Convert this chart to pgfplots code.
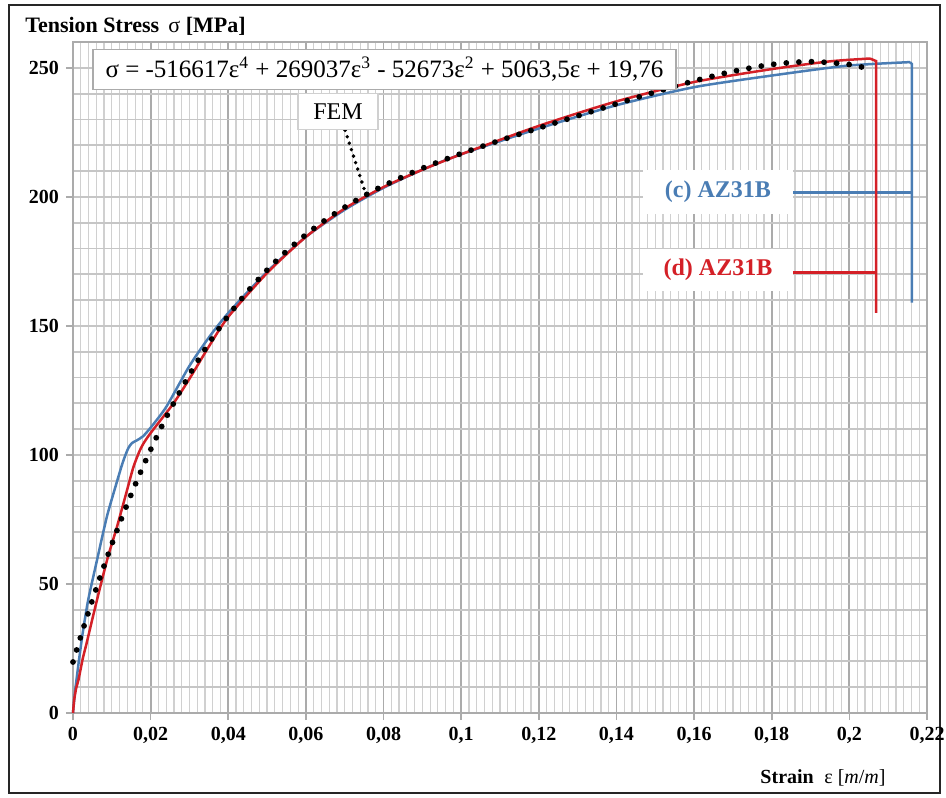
\documentclass[border=0pt]{standalone}
\usepackage{fontspec}
\setmainfont{Liberation Serif}
\usepackage{pgfplots}
\pgfplotsset{compat=1.18}
\definecolor{cblue}{HTML}{4A7DB4}
\definecolor{dred}{HTML}{D42027}
\definecolor{gmaj}{HTML}{ABABAB}
\definecolor{gmin}{HTML}{D0D0D0}
\definecolor{gh}{HTML}{C6C6C6}
\begin{document}
\begin{tikzpicture}
\useasboundingbox (-36.5pt,-42pt) rectangle (436.5pt,356.5pt);
\draw[line width=1.3pt, black!85] (-32pt,-40pt) rectangle (433.5pt,354pt);
\begin{axis}[
  at={(0,0)}, anchor=south west,
  scale only axis, width=427pt, height=335.5pt,
  xmin=0, xmax=0.22, ymin=0, ymax=260,
  xtick={0,0.02,0.04,0.06,0.08,0.1,0.12,0.14,0.16,0.18,0.2,0.22},
  xticklabels={0,{0,02},{0,04},{0,06},{0,08},{0,1},{0,12},{0,14},{0,16},{0,18},{0,2},{0,22}},
  ytick={0,50,100,150,200,250},
  minor x tick num=9, minor y tick num=4,
  grid=both,
  major x grid style={gmaj, line width=0.9pt},
  minor x grid style={gmin, line width=0.6pt},
  major y grid style={gh, line width=0.9pt},
  minor y grid style={gh, line width=0.9pt},
  axis line style={gmaj, line width=0.8pt},
  tick align=outside, major tick length=3.5pt, minor tick length=0pt,
  tick style={gmaj, line width=0.8pt},
  tick pos=left,
  tick label style={font=\bfseries\fontsize{10}{11}\selectfont, black},
  /pgf/number format/assume math mode=true,
  clip=false,
]
% (c) AZ31B
\addplot[cblue, line width=1.25pt, smooth, tension=0.4] coordinates {
(0,0) (0.0005,8) (0.0015,20) (0.0025,31) (0.0039,43.7) (0.006,58) (0.0087,75.9)
(0.011,88) (0.0128,97) (0.0142,102.5) (0.0152,104.6) (0.0164,105.6) (0.0181,107.3)
(0.0205,111.5) (0.0241,118.8) (0.03,134.5) (0.035,145.5) (0.04,155) (0.05,171)
(0.06,184.5) (0.07,195) (0.08,203.5) (0.09,210.5) (0.1,216.5) (0.12,226.5)
(0.14,235.5) (0.16,242.5) (0.18,247) (0.1993,250.8) (0.2156,252.2)};
\addplot[cblue, line width=1.25pt] coordinates {(0.2156,252.2) (0.2161,251.5) (0.2161,159)};
\addplot[cblue, line width=1.25pt] coordinates {(0.1855,201.6) (0.2161,201.6)};
% (d) AZ31B
\addplot[dred, line width=1.25pt, smooth, tension=0.4] coordinates {
(0,0) (0.0003,5) (0.0008,9.5) (0.0014,12.8) (0.0025,21) (0.0035,27) (0.005,36.5)
(0.007,48.8) (0.009,60.5) (0.0113,72) (0.0135,84) (0.0155,95) (0.017,101)
(0.0181,104.3) (0.02,108.5) (0.0258,119.8) (0.03,129.5) (0.035,142) (0.04,153.5)
(0.05,170.5) (0.06,184.5) (0.07,195.5) (0.08,203.8) (0.09,210.5) (0.1,216.5)
(0.12,227.5) (0.14,237) (0.16,244.5) (0.18,249.5) (0.195,252.5) (0.2053,253.6)};
\addplot[dred, line width=1.25pt] coordinates {(0.2053,253.6) (0.2069,252.6) (0.2069,155)};
\addplot[dred, line width=1.25pt] coordinates {(0.1855,170.6) (0.2069,170.6)};
% FEM
\addplot[black, line width=2.9pt, line cap=round, dash pattern=on 0pt off 6.3pt, smooth] coordinates {
(0,19.76) (0.0025,32.09) (0.005,43.79) (0.0075,54.89) (0.01,65.39) (0.0125,75.34)
(0.015,84.74) (0.0175,93.63) (0.02,102.03) (0.0225,109.96) (0.025,117.43) (0.03,131.10)
(0.035,143.22) (0.04,153.92) (0.045,163.35) (0.05,171.65) (0.055,178.95) (0.06,185.36)
(0.065,191.01) (0.07,195.98) (0.075,200.39) (0.08,204.32) (0.09,211.06) (0.1,216.76)
(0.11,221.85) (0.12,226.66) (0.13,231.36) (0.14,236.03) (0.15,240.61) (0.16,244.90)
(0.17,248.60) (0.18,251.28) (0.19,252.39) (0.2,251.25) (0.205,249.57)};
\draw[black, line width=1.9pt, line cap=round, dash pattern=on 0pt off 3.4pt]
  (axis cs:0.0701,225.8) -- (axis cs:0.076,198.4);
\node[draw=gmaj, fill=white, line width=0.6pt, minimum width=291.5pt, minimum height=20pt, inner sep=0pt,
  font=\fontsize{12.5}{13}\selectfont] at (axis cs:0.08024,249.4)
  {σ = -516617ε\textsuperscript{4} + 269037ε\textsuperscript{3} - 52673ε\textsuperscript{2} + 5063,5ε + 19,76};
\node[draw=gmin, fill=white, line width=0.6pt, minimum width=40pt, minimum height=18pt, inner sep=0pt,
  font=\fontsize{12}{13}\selectfont] at (axis cs:0.06826,233.2) {FEM};
\node[fill=white, minimum width=75pt, minimum height=22pt, inner sep=0pt,
  font=\bfseries\fontsize{12}{13}\selectfont, text=cblue] at (axis cs:0.16615,202.0) {(c) AZ31B};
\node[fill=white, minimum width=75pt, minimum height=21pt, inner sep=0pt,
  font=\bfseries\fontsize{12}{13}\selectfont, text=dred] at (axis cs:0.16615,171.6) {(d) AZ31B};
\end{axis}
\node[anchor=base west, inner sep=0pt, font=\fontsize{11}{12}\selectfont] at (-24pt,340pt)
  {\textbf{Tension Stress}\, σ \textbf{[MPa]}};
\node[inner sep=0pt, font=\fontsize{10}{12}\selectfont] at (375pt,-32.5pt)
  {\textbf{Strain}\; ε [\textit{m}/\textit{m}]};
\end{tikzpicture}
\end{document}
